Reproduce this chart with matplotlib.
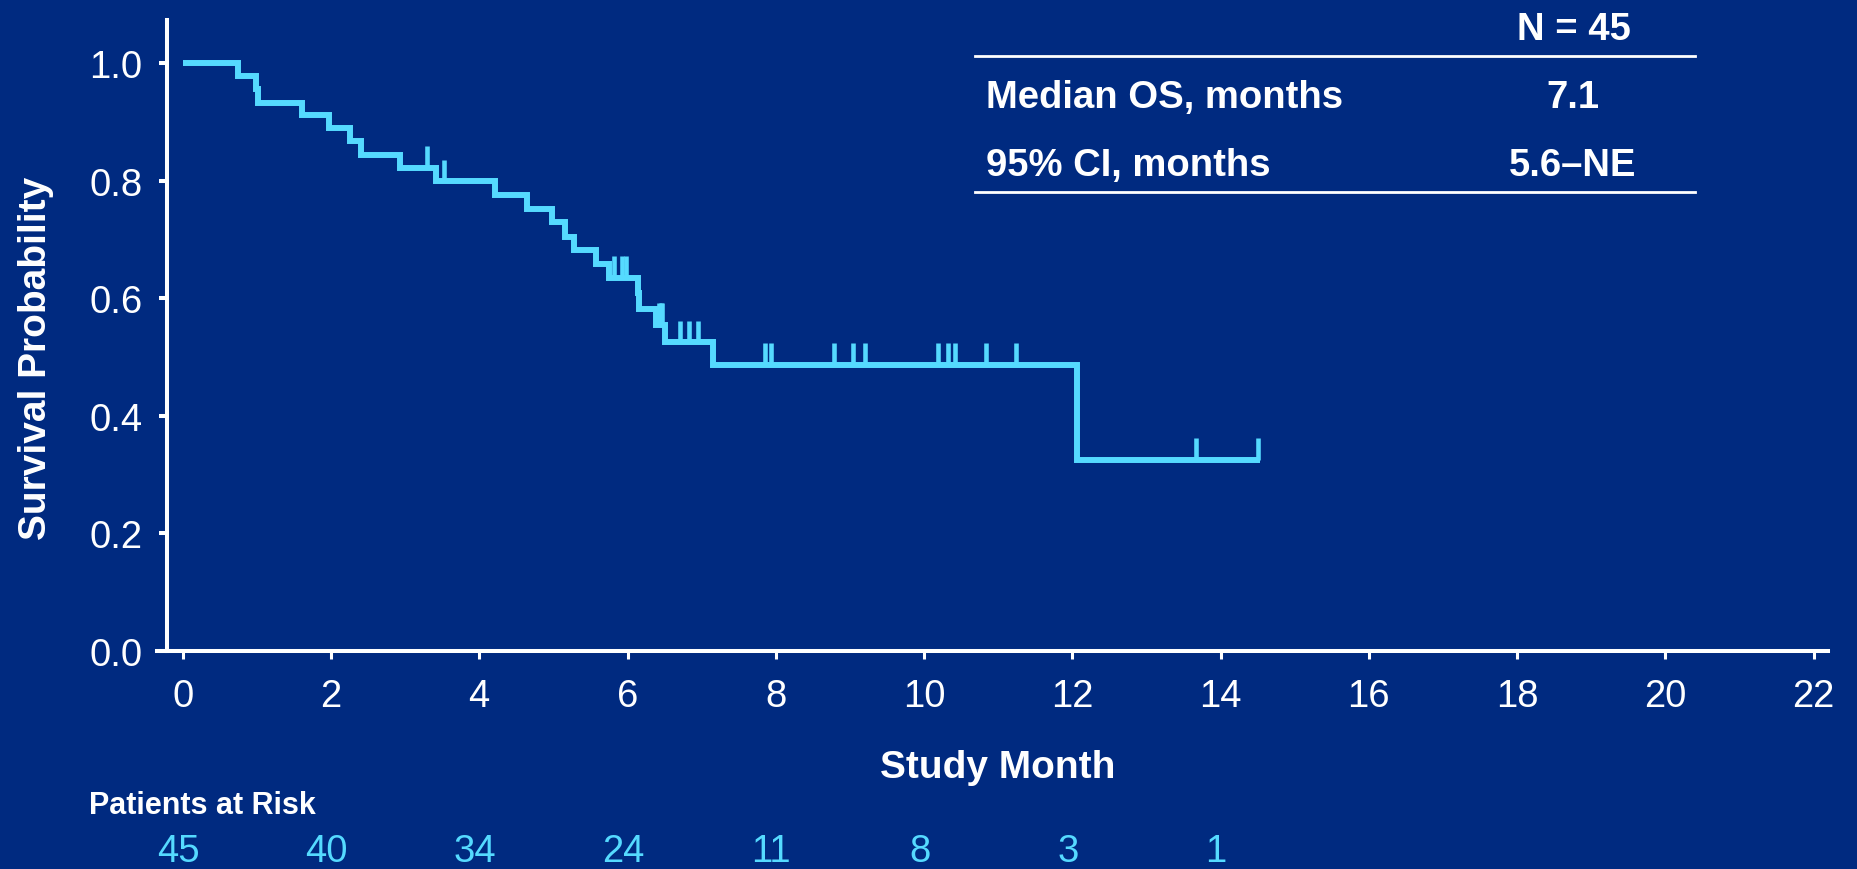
import matplotlib
matplotlib.use("Agg")
import matplotlib.pyplot as plt
import numpy as np
from matplotlib.lines import Line2D
from matplotlib.transforms import blended_transform_factory

# Kaplan-Meier steps
step_months = [0, 0.75, 0.99, 1.02, 1.61, 1.97, 2.25, 2.41, 2.93, 3.42, 4.21, 4.65,
               4.98, 5.16, 5.28, 5.57, 5.75, 6.14, 6.16, 6.38, 6.50, 7.15, 12.07]
step_surv = [1.0, 0.978, 0.956, 0.933, 0.911, 0.889, 0.867, 0.844, 0.822, 0.799, 0.776, 0.752,
             0.729, 0.705, 0.682, 0.658, 0.635, 0.608, 0.582, 0.555, 0.525, 0.487, 0.325]
last_month = 14.53

# censored patients (tick marks)
censor_months = [3.29, 3.52, 5.82, 5.93, 5.98, 6.43, 6.45, 6.47, 6.71, 6.83, 6.95,
                 7.86, 7.94, 8.79, 9.04, 9.20, 10.19, 10.32, 10.42, 10.84, 11.24, 13.67, 14.51]

risk_months = [0, 2, 4, 6, 8, 10, 12, 14]
at_risk = [45, 40, 34, 24, 11, 8, 3, 1]

table_rows = ["Median OS, months", "95% CI, months"]
table_vals = ["7.1", "5.6\u2013NE"]
table_header = "N = 45"

BG = "#002A80"
CYAN = "#55DAFF"
W, H = 1857, 870

plt.rcParams["font.family"] = ["Liberation Sans", "DejaVu Sans"]

fig = plt.figure(figsize=(W / 100, H / 100), dpi=100, facecolor=BG)
ax = fig.add_axes([166.7 / W, 1 - 651.7 / H, (1827.7 - 166.7) / W, (651.7 - 21.3) / H])
ax.set_facecolor(BG)

x = np.array(step_months + [last_month])
y = np.array(step_surv + [step_surv[-1]])
ax.step(x, y, where="post", color=CYAN, lw=4.3, solid_joinstyle="miter", solid_capstyle="butt")

cm = np.array(censor_months)
idx = np.searchsorted(step_months, cm, side="right") - 1
cs = np.array(step_surv)[idx]
ax.vlines(cm, cs, cs + 0.037, color=CYAN, lw=3.3)

ax.set_xlim(-0.216, 22.19)
ax.set_ylim(0, 1.073)
ax.set_xticks(range(0, 23, 2))
ax.set_yticks(np.arange(0, 1.01, 0.2))
ax.set_yticklabels([f"{v:.1f}" for v in np.arange(0, 1.01, 0.2)])

for side in ["top", "right"]:
    ax.spines[side].set_visible(False)
ax.spines["left"].set_color("white")
ax.spines["left"].set_linewidth(2.9)
ax.spines["bottom"].set_color("white")
ax.spines["bottom"].set_linewidth(2.9)
ax.spines["bottom"].set_bounds(-0.35, 22.19)

ax.tick_params(axis="x", colors="white", labelsize=27.5, length=5.8, width=2.2, pad=14)
ax.tick_params(axis="y", colors="white", labelsize=27.5, length=5.5, width=2.9, pad=12)

ax.set_xlabel("Study Month", color="white", fontsize=28, fontweight="bold")
ax.xaxis.label.set_va("baseline")
ax.xaxis.set_label_coords(0.5, -(778 - 651.7) / (651.7 - 21.3))
ax.set_ylabel("Survival Probability", color="white", fontsize=28, fontweight="bold")
ax.yaxis.label.set_va("center")
ax.yaxis.set_label_coords((36 - 166.7) / (1827.7 - 166.7), 0.5 / 1.073)

# patients at risk
fig.text(89 / W, 1 - 814 / H, "Patients at Risk", color="white", fontsize=22,
         fontweight="bold", ha="left", va="baseline")
tr = blended_transform_factory(ax.transData, fig.transFigure)
for m, n in zip(risk_months, at_risk):
    ax.text(m - 0.06, 1 - 862 / H, str(n), transform=tr, color=CYAN, fontsize=27.5,
            ha="center", va="baseline", clip_on=False)

# summary table
fig.text(1574 / W, 1 - 40 / H, table_header, color="white", fontsize=27.5,
         fontweight="bold", ha="center", va="baseline")
for i, (lab, val) in enumerate(zip(table_rows, table_vals)):
    yb = 1 - (108.3 + 67.7 * i) / H
    fig.text(985.7 / W, yb, lab, color="white", fontsize=27.5, fontweight="bold",
             ha="left", va="baseline")
    fig.text(1573 / W, yb, val, color="white", fontsize=27.5, fontweight="bold",
             ha="center", va="baseline")
for ly in [57.3, 192.7]:
    fig.add_artist(Line2D([974.5 / W, 1695 / W], [1 - ly / H, 1 - ly / H],
                          transform=fig.transFigure, color="white", lw=2))

fig.savefig("out.png", dpi=100, facecolor=BG)
